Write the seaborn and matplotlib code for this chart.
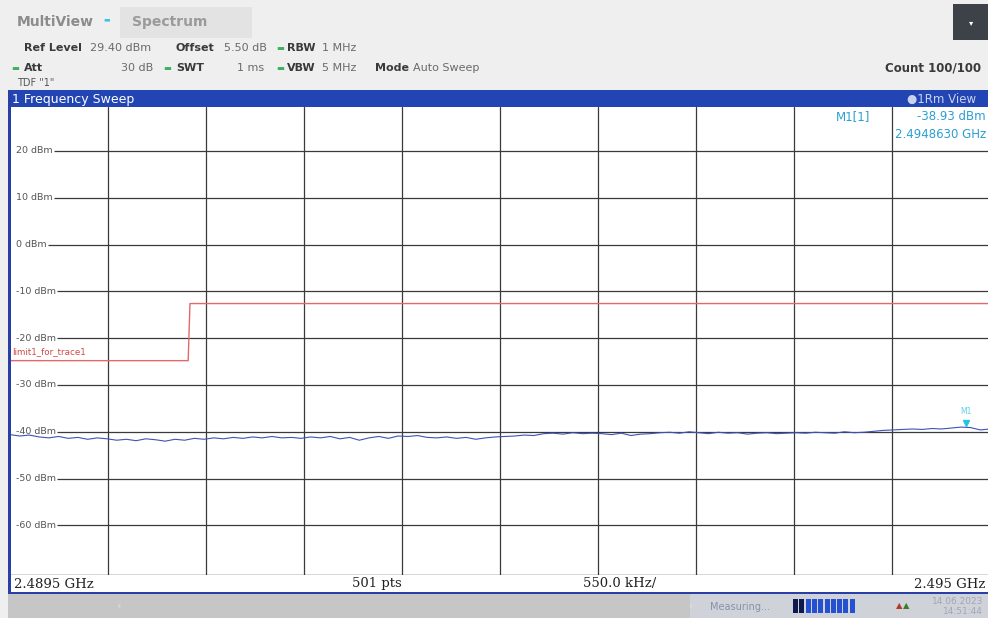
import numpy as np
import pandas as pd
import matplotlib
matplotlib.use("Agg")
import matplotlib.pyplot as plt
from matplotlib.patches import Rectangle
import seaborn as sns

# ---------------- data ----------------
f_start_ghz = 2.4895
f_stop_ghz = 2.495
trace_dbm = [
    -40.6, -40.9, -40.7, -41.1, -41.3, -41.0, -41.4, -41.2, -41.6, -41.3, -41.5,
    -41.8, -41.6, -41.9, -41.5, -41.7, -42.0, -41.6, -41.8, -41.4, -41.6,
    -41.3, -41.5, -41.2, -41.4, -41.1, -41.3, -41.0, -41.3, -41.2, -41.4,
    -41.1, -41.3, -41.0, -41.5, -41.2, -41.8, -41.3, -41.0, -41.4, -40.9,
    -41.0, -40.8, -41.2, -41.3, -41.1, -41.4, -41.2, -41.6, -41.3, -41.1,
    -41.0, -40.9, -40.7, -40.8, -40.4, -40.3, -40.5, -40.2, -40.4, -40.3,
    -40.4, -40.6, -40.3, -40.8, -40.5, -40.4, -40.2, -40.1, -40.3, -40.0,
    -40.2, -40.4, -40.1, -40.3, -40.2, -40.5, -40.3, -40.2, -40.4, -40.3,
    -40.2, -40.3, -40.1, -40.2, -40.3, -40.0, -40.2, -40.1, -39.9, -39.7,
    -39.6, -39.5, -39.4, -39.5, -39.3, -39.4, -39.2, -39.0, -39.1, -39.6, -39.4,
]
limit_freq_ghz = [2.4895, 2.49050, 2.49051, 2.495]
limit_dbm = [-24.8, -24.8, -12.6, -12.6]
marker_freq_ghz = 2.4948630
marker_dbm = -38.93
y_ticks_dbm = [20, 10, 0, -10, -20, -30, -40, -50, -60]
ref_level = 29.40
bottom_level = -70.60

trace_freq = np.linspace(f_start_ghz, f_stop_ghz, len(trace_dbm))
df_trace = pd.DataFrame({"freq": trace_freq, "level": trace_dbm})
df_limit = pd.DataFrame({"freq": limit_freq_ghz, "level": limit_dbm})

# ---------------- figure ----------------
sns.set_style("white")
plt.rcParams["font.family"] = ["DejaVu Sans"]

W, H = 988, 618
fig = plt.figure(figsize=(W / 100, H / 100), dpi=100)
fig.patch.set_facecolor("#efefef")

def fx(x):
    return x / W

def fy(y):
    return 1 - y / H

def rect(x0, y0, x1, y1, color, z=0, **kw):
    fig.patches.append(Rectangle((fx(x0), fy(y1)), fx(x1) - fx(x0), fy(y0) - fy(y1),
                                 transform=fig.transFigure, facecolor=color,
                                 edgecolor="none", zorder=z, **kw))

def txt(x, y, s, **kw):
    kw.setdefault("va", "center")
    return fig.text(fx(x), fy(y), s, **kw)

# header tabs
rect(120, 7, 252, 38, "#e3e3e3")
txt(17, 22, "MultiView", fontsize=10, fontweight="bold", color="#8c8c8c")
txt(103, 19, "\u25AC", fontsize=5, color="#34c6e6")
txt(132, 22, "Spectrum", fontsize=10, fontweight="bold", color="#9a9a9a")
rect(953, 4, 988, 40, "#3d4249")
txt(971, 23, "\u25BE", fontsize=6, color="white", ha="center")

lab = dict(fontsize=8, fontweight="bold", color="#3a3a3a")
val = dict(fontsize=8, color="#6a6a6a")
dot = dict(fontsize=6, color="#3cb35a")
txt(24, 48, "Ref Level", **lab)
txt(90, 48, "29.40 dBm", **val)
txt(176, 48, "Offset", **lab)
txt(224, 48, "5.50 dB", **val)
txt(276, 48, "\u25AC", **dot)
txt(287, 48, "RBW", **lab)
txt(322, 48, "1 MHz", **val)

txt(11, 68, "\u25AC", **dot)
txt(24, 68, "Att", **lab)
txt(121, 68, "30 dB", **val)
txt(163, 68, "\u25AC", **dot)
txt(176, 68, "SWT", **lab)
txt(237, 68, "1 ms", **val)
txt(276, 68, "\u25AC", **dot)
txt(287, 68, "VBW", **lab)
txt(322, 68, "5 MHz", **val)
txt(375, 68, "Mode", **lab)
txt(413, 68, "Auto Sweep", **val)
txt(17, 83, 'TDF "1"', fontsize=7, color="#555555")
txt(981, 68, "Count 100/100", fontsize=8.5, fontweight="bold", color="#3a3a3a", ha="right")

# blue title bar
rect(8, 90, 988, 107, "#2245b3", z=1)
txt(12, 99, "1 Frequency Sweep", fontsize=9, color="white")
txt(976, 99, "\u25CF1Rm View", fontsize=8.5, color="#c9d3ee", ha="right")

# plot panel frame
rect(8, 575, 988, 593, "white", z=1)
rect(8, 91, 11, 593, "#2a3fa6", z=5)
rect(8, 592, 988, 594, "#2a3fa6", z=5)

# status bar
rect(0, 594, 988, 618, "#c6c6c6", z=1)
rect(690, 594, 988, 618, "#cfd3d9", z=1)
rect(0, 594, 8, 618, "#efefef", z=1)
txt(118, 606, "\u2039", fontsize=8, color="#e0e0e0", ha="center")
txt(690, 606, "\u2039", fontsize=8, color="#e0e0e0", ha="center")
txt(710, 607, "Measuring...", fontsize=7, color="#8892a8")
for i in range(10):
    c = "#0d1a4d" if i < 2 else "#2550d0"
    rect(793 + i * 6.3, 599, 793 + i * 6.3 + 5, 613, c, z=2)
txt(896, 606, "\u25B2", fontsize=6, color="#b03a2a")
txt(903, 606, "\u25B2", fontsize=6, color="#3d7a2a")
txt(983, 601, "14.06.2023", fontsize=6.5, color="#a0a6b3", ha="right")
txt(983, 612, "14:51:44", fontsize=6.5, color="#a0a6b3", ha="right")

# main axes
x_left, x_right = 10, 990
y_top, y_bot = 107, 575
ax = fig.add_axes([fx(x_left), fy(y_bot), fx(x_right) - fx(x_left), fy(y_top) - fy(y_bot)])
ax.set_facecolor("white")
ax.set_xlim(f_start_ghz, f_stop_ghz)
ax.set_ylim(bottom_level, ref_level)
ax.set_xticks([])
ax.set_yticks([])
for s in ax.spines.values():
    s.set_visible(False)
ax.spines["bottom"].set_visible(True)
ax.spines["bottom"].set_color("#333333")
ax.spines["bottom"].set_linewidth(1.0)

step = (f_stop_ghz - f_start_ghz) / 10
for k in range(1, 10):
    ax.axvline(f_start_ghz + k * step, color="#3a3a3a", lw=0.9, zorder=1)

label_off = (f_stop_ghz - f_start_ghz) * 6 / 980
ylabels = []
for yv in y_ticks_dbm:
    t = ax.text(f_start_ghz + label_off, yv, f"{yv} dBm", fontsize=6.8, color="#555555",
                va="center", ha="left", zorder=2)
    ylabels.append((yv, t))
fig.canvas.draw()
inv = ax.transData.inverted()
for yv, t in ylabels:
    bb = t.get_window_extent()
    x_end = inv.transform((bb.x1 + 1, bb.y0))[0]
    ax.hlines(yv, x_end, f_stop_ghz, color="#3a3a3a", lw=0.9, zorder=1)

sns.lineplot(data=df_limit, x="freq", y="level", ax=ax, color="#e06a6a",
             linewidth=1.0, estimator=None, sort=False, zorder=3)
ax.text(f_start_ghz + 0.00001, -22.9, "limit1_for_trace1", fontsize=6.3,
        color="#d24848", va="center", ha="left", zorder=4)

sns.lineplot(data=df_trace, x="freq", y="level", ax=ax, color="#3f52b8",
             linewidth=0.8, estimator=None, sort=False, zorder=4)
ax.plot([marker_freq_ghz], [marker_dbm + 0.9], marker="v", color="#25c4e0",
        markersize=4, zorder=5)
ax.text(marker_freq_ghz, marker_dbm + 3.3, "M1", fontsize=5.5, color="#5fd0e6",
        ha="center", va="center", zorder=5)
ax.set_xlabel("")
ax.set_ylabel("")
ax.set_xlim(f_start_ghz, f_stop_ghz)
ax.set_ylim(bottom_level, ref_level)

# marker info
info = dict(fontsize=8.5, color="#2b9fd2")
txt(870, 117, "M1[1]", ha="right", **info)
txt(986, 117, "-38.93 dBm", ha="right", **info)
txt(986, 135, "2.4948630 GHz", ha="right", **info)

# bottom frequency labels
blab = dict(fontsize=9.5, color="#222222", family="DejaVu Serif")
txt(14, 584, "2.4895 GHz", **blab)
txt(377, 584, "501 pts", ha="center", **blab)
txt(620, 584, "550.0 kHz/", ha="center", **blab)
txt(985, 584, "2.495 GHz", ha="right", **blab)

fig.savefig("out.png", dpi=100)
